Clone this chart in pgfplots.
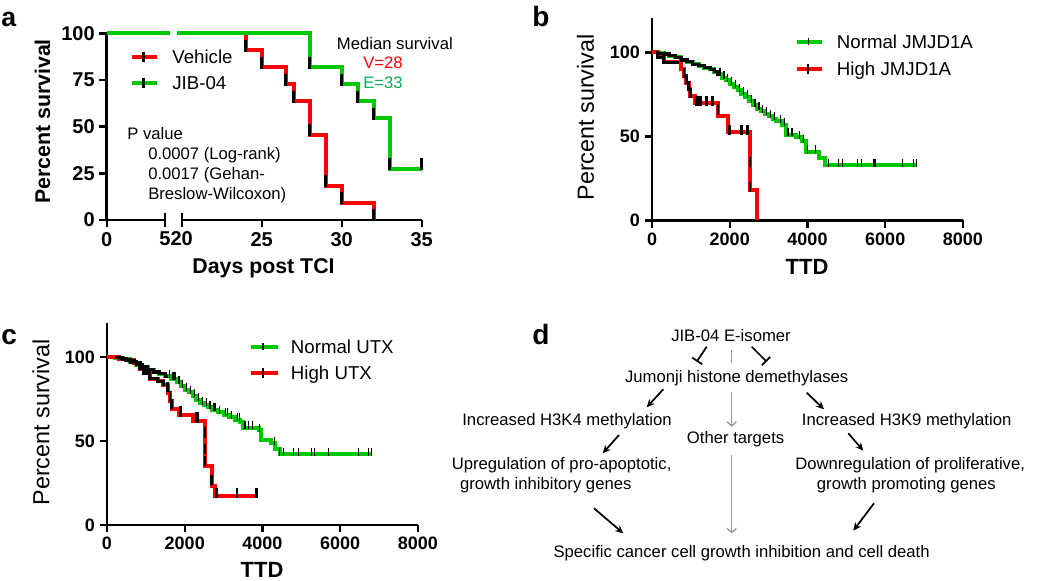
\documentclass[border=0pt]{standalone}
\usepackage{fontspec}
\setmainfont{Liberation Sans}
\usepackage{pgfplots}
\pgfplotsset{compat=1.18}
\usetikzlibrary{arrows.meta}
\definecolor{kmred}{RGB}{255,0,0}
\definecolor{kmgreen}{RGB}{0,200,0}
\definecolor{txtgreen}{RGB}{0,176,80}
\definecolor{arrgray}{RGB}{150,150,150}
\newcommand{\fs}[1]{\fontsize{#1}{#1}\selectfont}
\pgfplotsset{
  km/.style={
    scale only axis, clip=false, anchor=south west,
    axis x line=bottom, axis y line=left,
    axis line style={-, line width=2pt},
    tick align=outside, major tick length=5.5pt,
    tick style={black, line width=1.8pt},
    tick label style={font=\bfseries\fs{14}},
    /pgf/number format/assume math mode=true,
    scaled ticks=false,
    legend style={draw=none, fill=none, inner sep=0pt, outer sep=0pt,
      anchor=north west, font=\fs{14}, cells={anchor=west},
      nodes={inner sep=0pt, text height=10pt, text depth=0pt},
      column sep=0pt, row sep=9.5pt},
  },
  evmark/.style={only marks, mark=|, mark size=4.5pt, mark options={black, line width=2.2pt}, forget plot},
  thinmark/.style={only marks, mark=|, mark size=3pt, mark options={black, line width=0.9pt}, forget plot},
  thickmark/.style={only marks, mark=|, mark size=3.8pt, mark options={black, line width=2pt}, forget plot},
}
\begin{document}
\begin{tikzpicture}[x=0.75pt,y=0.75pt]
\path[use as bounding box] (0,0) rectangle (1050,581);

% ---------------- Panel a ----------------
\begin{axis}[km, at={(80.03pt,270.75pt)}, width=43.7pt, height=140pt,
  xmin=0, xmax=5, ymin=0, ymax=100,
  xtick={0}, extra x ticks={5},
  extra x tick style={tick align=center, major tick length=10pt},
  ytick={0,25,50,75,100}, tick label style={font=\bfseries\fs{15}}]
\addplot[kmgreen, line width=3pt, forget plot] coordinates {(0,100) (5.4,100)};
\end{axis}

\begin{axis}[km, at={(136.28pt,270.75pt)}, width=180pt, height=140pt,
  xmin=20, xmax=35, ymin=0, ymax=100, axis y line=none,
  xtick={25,30,35}, extra x ticks={20},
  extra x tick style={tick align=center, major tick length=10pt},
  tick label style={font=\bfseries\fs{15}},
  legend style={at={(-0.2154,0.911)}, row sep=9.5pt}]
\addplot[kmred, line width=3pt, const plot, forget plot] coordinates {(24,100) (24,90.9) (25,81.8) (26.5,72.7) (27,63.6) (28,45.5) (29,18.2) (30,9.1) (32,0) (32,0)};
\addplot[kmgreen, line width=3pt, const plot, forget plot] coordinates {(19.7,100) (28,81.8) (30,72.7) (31,63.6) (32,54.5) (33,27.3) (35,27.3)};
\addplot[evmark] coordinates {(24,93.4) (25,84.3) (26.5,75.2) (27,66.1) (28,48) (29,20.7) (30,11.6) (32,2.5)};
\addplot[evmark] coordinates {(28,84.3) (30,75.2) (31,66.1) (32,57) (33,29.8) (35,29.8)};
\addlegendimage{legend image code/.code={\draw[kmred, line width=3pt] (0pt,0pt) -- (19pt,0pt); \draw[black, line width=2.2pt] (8.5pt,-3.8pt) -- (8.5pt,3.8pt); \path[draw=none, fill=none] (0pt,0pt) -- (30.25pt,0pt);}}
\addlegendentry{Vehicle}
\addlegendimage{legend image code/.code={\draw[kmgreen, line width=3pt] (0pt,0pt) -- (19pt,0pt); \draw[black, line width=2.2pt] (8.5pt,-3.8pt) -- (8.5pt,3.8pt); \path[draw=none, fill=none] (0pt,0pt) -- (30.25pt,0pt);}}
\addlegendentry{JIB-04}
\end{axis}

\node[anchor=base west, inner sep=0pt, font=\bfseries\fs{20}] at (1,554) {a};
\node[rotate=90, inner sep=0pt, font=\bfseries\fs{16}] at (42.5,459.5) {Percent survival};
\node[anchor=base, inner sep=0pt, font=\bfseries\fs{16}] at (263.5,307.7) {Days post TCI};
\node[anchor=base west, inner sep=0pt, font=\fs{12.5}] at (336.7,531.7) {Median survival};
\node[anchor=base east, inner sep=0pt, font=\fs{12.5}, text=kmred] at (403,512.7) {V=28};
\node[anchor=base east, inner sep=0pt, font=\fs{12.5}, text=txtgreen] at (403,492) {E=33};
\node[anchor=base west, inner sep=0pt, font=\fs{12.5}] at (127,441) {P value};
\node[anchor=base west, inner sep=0pt, font=\fs{12.5}] at (148,421.5) {0.0007 (Log-rank)};
\node[anchor=base west, inner sep=0pt, font=\fs{12.5}] at (148,401) {0.0017 (Gehan-};
\node[anchor=base west, inner sep=0pt, font=\fs{12.5}] at (148,381) {Breslow-Wilcoxon)};

% ---------------- Panel b ----------------
\begin{axis}[km, at={(489pt,270.375pt)}, width=233.25pt, height=151.9pt,
  xmin=0, xmax=8000, ymin=0, ymax=120.5,
  xtick={0,2000,4000,6000,8000}, xticklabels={0,2000,4000,6000,8000},
  ytick={0,50,100}, tick label style={font=\bfseries\fs{13.5}},
  legend style={at={(0.4598,0.916)}, row sep=10.25pt}]
\addplot[kmgreen, line width=3pt, const plot, forget plot] coordinates {(0,100) (150,99.5) (300,99) (450,98) (600,97) (750,95.5) (900,94.5) (1050,93) (1200,92) (1350,91) (1500,90) (1600,88.5) (1700,87) (1800,85) (1900,83.5) (2000,81.5) (2100,79.5) (2200,77.5) (2300,75.5) (2400,73.5) (2500,71) (2600,68.5) (2700,66.5) (2800,65) (2900,63.5) (3000,62) (3100,60.5) (3200,59) (3350,57) (3450,51) (3700,49.5) (3850,47) (3950,41) (4300,37) (4450,33) (6800,33)};
\addplot[kmred, line width=3pt, const plot, forget plot] coordinates {(0,100) (150,97) (300,94) (750,90) (820,86) (880,82) (940,78) (990,74) (1100,70) (1700,62) (1960,52.5) (2520,18) (2690,0) (2690,0)};
\addplot[black, line width=2.4pt, const plot, forget plot] coordinates {(100,100) (150,99.5) (300,99) (450,98) (600,97) (750,95.5) (900,94.5) (1050,93) (1200,92) (1350,91) (1500,90) (1600,88.5) (1700,87) (1730,87)};
\addplot[black, line width=2.4pt, const plot, forget plot] coordinates {(100,100) (150,97) (300,94) (700,94)};
\addplot[thinmark] coordinates {(1750,88.5) (1850,86.5) (1950,85) (2050,83) (2150,81) (2250,79) (2350,77) (2450,75) (2550,72.5) (2650,70) (2750,68) (2850,66.5) (2950,65) (3050,63.5) (3150,62) (3300,60.5) (3400,58.5) (3500,52.5) (3600,52.5) (3800,51) (3900,48.5) (4000,42.5) (4200,42.5) (4535,34.5) (4792,34.5) (4905,34.5) (5281,34.5) (5394,34.5) (5710,34.5) (5736,34.5) (6438,34.5) (6721,34.5) (6808,34.5)};
\addplot[thickmark] coordinates {(820,88) (880,84) (940,80) (990,76) (1150,71) (1200,71) (1250,71) (1400,71) (1550,71) (1700,66) (1980,54) (2000,54) (2300,54) (2450,54) (2520,35) (2520,20)};
\addlegendimage{legend image code/.code={\draw[kmgreen, line width=3pt] (0pt,0pt) -- (18.75pt,0pt); \draw[black, line width=0.8pt] (8.5pt,-2.5pt) -- (8.5pt,2.5pt); \path[draw=none, fill=none] (0pt,0pt) -- (30pt,0pt);}}
\addlegendentry{Normal JMJD1A}
\addlegendimage{legend image code/.code={\draw[kmred, line width=3pt] (0pt,0pt) -- (18.75pt,0pt); \draw[black, line width=1.6pt] (8.5pt,-3.8pt) -- (8.5pt,3.8pt); \path[draw=none, fill=none] (0pt,0pt) -- (30pt,0pt);}}
\addlegendentry{High JMJD1A}
\end{axis}

\node[anchor=base west, inner sep=0pt, font=\bfseries\fs{21}] at (532,554) {b};
\node[rotate=90, inner sep=0pt, font=\fs{17.5}] at (585.5,463.5) {Percent survival};
\node[anchor=base, inner sep=0pt, font=\bfseries\fs{16.5}] at (807,306) {TTD};

% ---------------- Panel c ----------------
\begin{axis}[km, at={(80.25pt,42pt)}, width=233.25pt, height=151.5pt,
  xmin=0, xmax=8000, ymin=0, ymax=120.2,
  xtick={0,2000,4000,6000,8000}, xticklabels={0,2000,4000,6000,8000},
  ytick={0,50,100}, tick label style={font=\bfseries\fs{13.5}},
  legend style={at={(0.4566,0.916)}, row sep=9.5pt}]
\addplot[kmgreen, line width=3pt, const plot, forget plot] coordinates {(0,100) (200,99.5) (400,98.5) (600,97) (750,95.5) (900,94) (1050,92.5) (1200,91) (1350,90) (1500,88.5) (1650,87) (1800,85) (1900,82.5) (2000,80.5) (2100,79) (2200,77) (2300,74.5) (2400,72.5) (2500,71.5) (2600,70) (2700,68.5) (2850,67) (3000,65.5) (3150,64) (3300,62.5) (3420,61) (3500,58) (3900,56.5) (3970,50.5) (4230,48.5) (4320,45.5) (4440,42) (6800,42)};
\addplot[kmred, line width=3pt, const plot, forget plot] coordinates {(0,100) (300,99) (500,98) (700,96.5) (850,93) (950,90.5) (1100,87) (1300,85.5) (1450,83.5) (1560,78.5) (1620,74) (1660,69) (1850,65.5) (2200,62) (2520,35) (2690,23) (2780,17) (3850,17)};
\addplot[black, line width=2.4pt, const plot, forget plot] coordinates {(200,99.5) (400,98.5) (600,97) (750,95.5) (900,94) (1050,92.5) (1200,91) (1350,90) (1500,88.5) (1560,88.5)};
\addplot[black, line width=2.4pt, const plot, forget plot] coordinates {(300,99) (500,98) (700,96.5) (850,93) (950,90.5) (1100,87) (1300,85.5) (1450,83.5) (1500,83.5)};
\addplot[thinmark] coordinates {(1600,90) (1700,88.5) (1750,88.5) (1850,86.5) (1950,84) (2050,82) (2150,80.5) (2250,78.5) (2350,76) (2450,74) (2550,73) (2650,71.5) (2750,70) (2800,70) (2900,68.5) (3050,67) (3100,67) (3200,65.5) (3350,64) (3400,64) (3550,59.5) (3650,59.5) (3750,59.5) (3930,58) (4300,50) (4446,43.5) (4532,43.5) (4789,43.5) (4918,43.5) (5261,43.5) (5347,43.5) (5689,43.5) (6460,43.5) (6717,43.5) (6803,43.5)};
\addplot[thickmark] coordinates {(1560,82) (1620,77) (1660,72) (1880,67.5) (1900,67.5) (2300,64) (2320,64) (2520,55) (2520,45) (2520,38) (2690,27) (2800,19) (2830,19) (3340,19) (3840,19)};
\addlegendimage{legend image code/.code={\draw[kmgreen, line width=3pt] (0pt,0pt) -- (20pt,0pt); \draw[black, line width=0.8pt] (9pt,-2.5pt) -- (9pt,2.5pt); \path[draw=none, fill=none] (0pt,0pt) -- (30pt,0pt);}}
\addlegendentry{Normal UTX}
\addlegendimage{legend image code/.code={\draw[kmred, line width=3pt] (0pt,0pt) -- (20pt,0pt); \draw[black, line width=1.6pt] (9pt,-3.8pt) -- (9pt,3.8pt); \path[draw=none, fill=none] (0pt,0pt) -- (30pt,0pt);}}
\addlegendentry{High UTX}
\end{axis}

\node[anchor=base west, inner sep=0pt, font=\bfseries\fs{21}] at (1,236) {c};
\node[rotate=90, inner sep=0pt, font=\fs{17.5}] at (41,158.5) {Percent survival};
\node[anchor=base, inner sep=0pt, font=\bfseries\fs{16.5}] at (262,3) {TTD};

% ---------------- Panel d ----------------
\node[anchor=base west, inner sep=0pt, font=\bfseries\fs{21}] at (532,236) {d};
\begin{scope}[font=\fs{12.5}, every node/.style={inner sep=0pt}]
\node[anchor=base] at (731,239.5) {JIB-04 E-isomer};
\node[anchor=base] at (736.7,198.3) {Jumonji histone demethylases};
\node[anchor=base east] at (672,155) {Increased H3K4 methylation};
\node[anchor=base west] at (686.7,137) {Other targets};
\node[anchor=base west] at (801.7,155) {Increased H3K9 methylation};
\node[anchor=base east] at (671.7,111) {Upregulation of pro-apoptotic,};
\node[anchor=base east] at (631.7,91) {growth inhibitory genes};
\node[anchor=base west] at (795,111) {Downregulation of proliferative,};
\node[anchor=base west] at (816.7,91) {growth promoting genes};
\node[anchor=base west] at (553.3,23) {Specific cancer cell growth inhibition and cell death};
\end{scope}
\begin{scope}[line width=1.3pt]
\draw[-{Bar[width=9pt,line width=1.3pt]}] (706.7,234.3) -- (696.7,219.3);
\draw[-{Bar[width=9pt,line width=1.3pt]}] (751.7,234.3) -- (766.7,219.3);
\draw[-{Stealth[length=6pt,width=5.5pt]}] (663.3,191.7) -- (646.7,173.7);
\draw[-{Stealth[length=6pt,width=5.5pt]}] (806.7,188.3) -- (824,171.7);
\draw[-{Stealth[length=6pt,width=5.5pt]}] (619,146) -- (602.7,127.7);
\draw[-{Stealth[length=6pt,width=5.5pt]}] (848.3,147.7) -- (863.3,130.3);
\draw[-{Stealth[length=6pt,width=5.5pt]}] (594,72.7) -- (623.3,47.7);
\draw[-{Stealth[length=6pt,width=5.5pt]}] (874,77.7) -- (853.3,50.3);
\end{scope}
\begin{scope}[arrgray, line width=1pt]
\draw (731.7,231) -- (731.7,217.7);
\draw[-{Straight Barb[length=3pt,width=7pt]}] (731.7,189.3) -- (731.7,154.3);
\draw[-{Straight Barb[length=3pt,width=7pt]}] (731.7,126) -- (731.7,47.7);
\end{scope}
\end{tikzpicture}
\end{document}
